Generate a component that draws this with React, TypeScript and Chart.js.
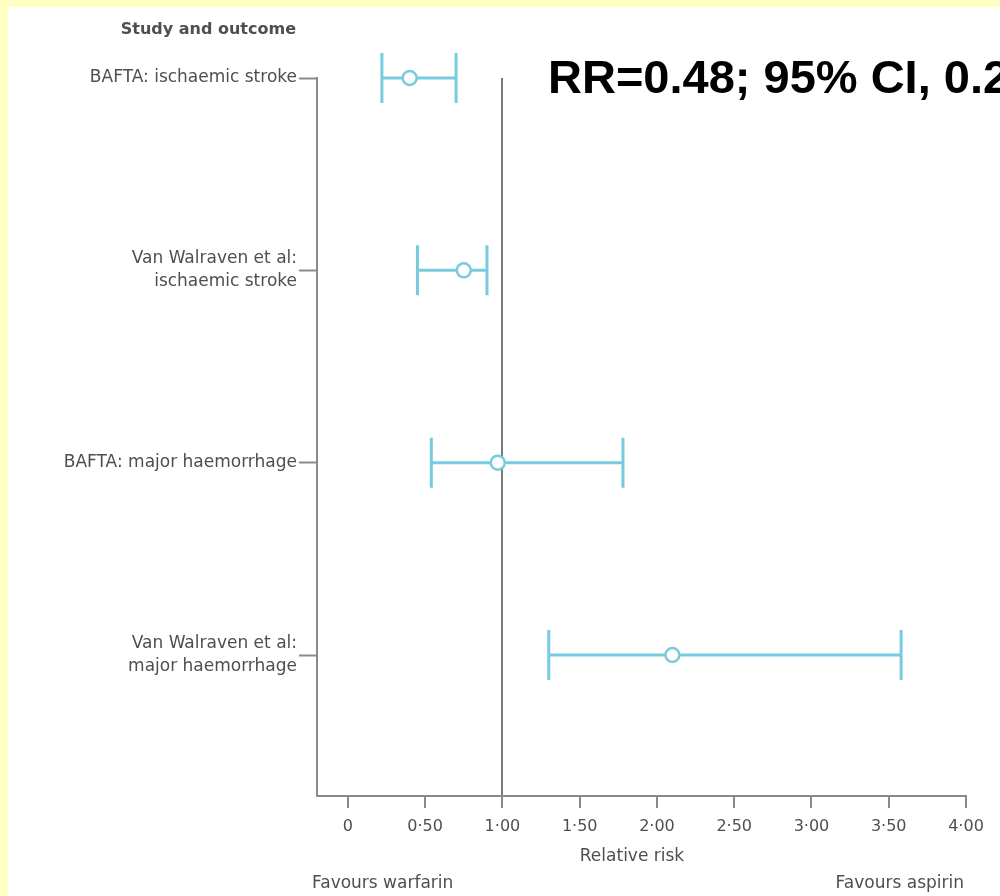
import React, { useEffect, useRef } from "react";
import { Chart, registerables } from "chart.js";

Chart.register(...registerables);

// ---- data ----
const categories: (string | string[])[] = [
  "BAFTA: ischaemic stroke",
  ["Van Walraven et al:", "ischaemic stroke"],
  "BAFTA: major haemorrhage",
  ["Van Walraven et al:", "major haemorrhage"],
];
const relativeRisk = [0.4, 0.75, 0.97, 2.1];
const ciLower = [0.22, 0.45, 0.54, 1.3];
const ciUpper = [0.7, 0.9, 1.78, 3.58];
const xTickValues = [0, 0.5, 1, 1.5, 2, 2.5, 3, 3.5, 4];
const xTickLabels = ["0", "0·50", "1·00", "1·50", "2·00", "2·50", "3·00", "3·50", "4·00"];
const headerText = "Study and outcome";
const titleText = "RR=0.48; 95% CI, 0.28–0.81";
const xTitle = "Relative risk";
const favoursLeft = "Favours warfarin";
const favoursRight = "Favours aspirin";

// ---- styles ----
const BLUE = "#78cbdf";
const AXIS = "#8a8a8a";
const TEXT = "#4f4f4f";
const FONT = "'DejaVu Sans', 'Noto Sans', sans-serif";

const forestPlugin = {
  id: "forest",
  beforeDatasetsDraw(chart: any) {
    const { ctx, scales } = chart;
    const x = scales.x;
    const y = scales.y;
    ctx.save();
    ctx.strokeStyle = BLUE;
    ctx.lineWidth = 3;
    ctx.lineCap = "butt";
    for (let i = 0; i < relativeRisk.length; i++) {
      const py = y.getPixelForValue(i);
      const x0 = x.getPixelForValue(ciLower[i]);
      const x1 = x.getPixelForValue(ciUpper[i]);
      ctx.beginPath();
      ctx.moveTo(x0, py);
      ctx.lineTo(x1, py);
      ctx.moveTo(x0, py - 25);
      ctx.lineTo(x0, py + 25);
      ctx.moveTo(x1, py - 25);
      ctx.lineTo(x1, py + 25);
      ctx.stroke();
    }
    ctx.restore();
  },
  afterDraw(chart: any) {
    const { ctx, chartArea } = chart;
    ctx.save();
    ctx.fillStyle = TEXT;
    ctx.textBaseline = "middle";
    // header
    ctx.font = `bold 16px ${FONT}`;
    ctx.textAlign = "right";
    ctx.fillText(headerText, chartArea.left - 21, 23);
    // axis title
    ctx.font = `17px ${FONT}`;
    ctx.textAlign = "center";
    ctx.fillText(xTitle, 624, 850);
    ctx.textAlign = "left";
    ctx.fillText(favoursLeft, chartArea.left - 5, 877);
    ctx.textAlign = "right";
    ctx.fillText(favoursRight, chartArea.right - 2, 877);
    // big title
    ctx.fillStyle = "#000000";
    ctx.font = "bold 47px 'Liberation Sans', Arial, sans-serif";
    ctx.textAlign = "left";
    ctx.textBaseline = "alphabetic";
    ctx.fillText(titleText, 540, 86);
    ctx.restore();
  },
};

export default function App() {
  const canvasRef = useRef<HTMLCanvasElement | null>(null);

  useEffect(() => {
    const canvas = canvasRef.current;
    if (!canvas) return;
    const chart = new Chart(canvas, {
      type: "scatter",
      data: {
        datasets: [
          {
            data: relativeRisk.map((v, i) => ({ x: v, y: i })),
            clip: false,
            pointRadius: 7,
            pointHoverRadius: 7,
            pointBackgroundColor: "#ffffff",
            pointBorderColor: BLUE,
            pointBorderWidth: 2.5,
          },
        ],
      },
      options: {
        responsive: false,
        animation: false,
        devicePixelRatio: 1,
        layout: { padding: { top: 71, right: 34, left: 0, bottom: 0 } },
        plugins: {
          legend: { display: false },
          tooltip: { enabled: false },
        },
        scales: {
          x: {
            type: "linear",
            min: -0.2,
            max: 4,
            afterBuildTicks: (s: any) => {
              s.ticks = xTickValues.map((v) => ({ value: v }));
            },
            afterFit: (s: any) => {
              s.height = 100;
            },
            ticks: {
              autoSkip: false,
              maxRotation: 0,
              padding: 9,
              color: TEXT,
              font: { family: FONT, size: 16 },
              callback: (_v: any, idx: number) => xTickLabels[idx],
            },
            grid: {
              drawOnChartArea: true,
              color: (c: any) => (c.tick && c.tick.value === 1 ? "#7a7a7a" : "rgba(0,0,0,0)"),
              lineWidth: 2,
              tickColor: AXIS,
              tickLength: 12,
              tickWidth: 2,
            },
            border: { display: true, color: AXIS, width: 2 },
          },
          y: {
            type: "linear",
            reverse: true,
            min: 0,
            max: 3.733,
            afterBuildTicks: (s: any) => {
              s.ticks = categories.map((_c, i) => ({ value: i }));
            },
            afterFit: (s: any) => {
              s.width = 309;
            },
            ticks: {
              autoSkip: false,
              padding: 2,
              color: TEXT,
              font: { family: FONT, size: 17, lineHeight: 1.35 },
              callback: (_v: any, idx: number) => categories[idx] as any,
            },
            grid: {
              drawOnChartArea: false,
              tickColor: AXIS,
              tickLength: 18,
              tickWidth: 2,
            },
            border: { display: true, color: AXIS, width: 2 },
          },
        },
      } as any,
      plugins: [forestPlugin],
    });
    return () => chart.destroy();
  }, []);

  return (
    <div
      style={{
        position: "absolute",
        left: 0,
        top: 0,
        width: 1000,
        height: 896,
        background: "#ffffc4",
        overflow: "hidden",
      }}
    >
      <canvas
        ref={canvasRef}
        width={992}
        height={889}
        style={{ position: "absolute", left: 8, top: 7, width: 992, height: 889, background: "#ffffff" }}
      />
    </div>
  );
}
